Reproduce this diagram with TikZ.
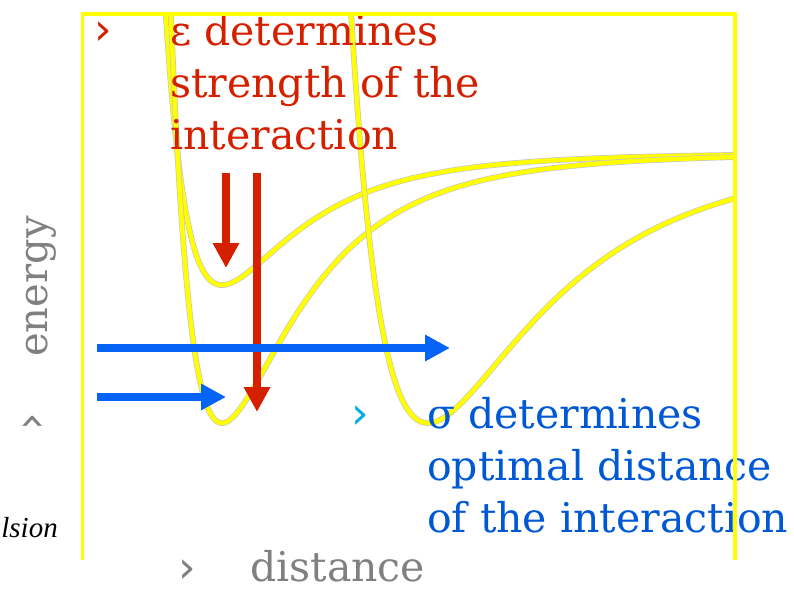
\documentclass[tikz,border=0pt]{standalone}
\usepackage{fontspec}
\setmainfont{DejaVu Serif}
\newfontfamily\symfont{DejaVu Sans}
\newfontfamily\itfont{Liberation Serif}
\usetikzlibrary{arrows.meta}
\definecolor{epsred}{RGB}{213,32,0}
\definecolor{arrblue}{RGB}{5,100,245}
\definecolor{txtblue}{RGB}{0,88,212}
\definecolor{lightblue}{RGB}{0,170,235}
\definecolor{labgray}{RGB}{128,128,128}
\definecolor{potyellow}{RGB}{255,255,0}
\begin{document}
\begin{tikzpicture}[x=1pt,y=-1pt,
  curve/.style={line width=4.4pt, draw=potyellow, preaction={draw=black!22, line width=5.8pt}},
  framel/.style={draw=potyellow, line width=3pt},
  redarrow/.style={draw=epsred, fill=epsred, line width=8pt, -{Triangle[length=25pt,width=25pt]}},
  bluearrow/.style={draw=arrblue, fill=arrblue, line width=8pt, -{Triangle[length=25pt,width=25pt]}},
  bigtext/.style={font=\fontsize{41}{52}\selectfont, inner sep=0pt, anchor=base west},
  bulletmark/.style={font=\symfont\fontsize{44}{50}\selectfont, inner sep=0pt, anchor=center},
]
\useasboundingbox (0,0) rectangle (794,589);
% potential curves
\begin{scope}
\clip (83,12) rectangle (735,560);
\draw[curve] plot[domain=0.855:2.3, samples=600, variable=\t] ({-186+408*\t},{153-132*(((1/\t)^6)^2-2*(1/\t)^6)});
\draw[curve] plot[domain=0.865:2.3, samples=600, variable=\t] ({-186+408*\t},{153-270*(((1/\t)^6)^2-2*(1/\t)^6)});
\draw[curve] plot[domain=0.865:1.55, samples=600, variable=\t] ({-186+614*\t},{153-270*(((1/\t)^6)^2-2*(1/\t)^6)});
\end{scope}
% arrows
\coordinate (r1s) at (226,173);
\coordinate (r1e) at (226,268);
\coordinate (r2s) at (257,173);
\coordinate (r2e) at (257,412);
\coordinate (b1s) at (97,348);
\coordinate (b1e) at (450,348);
\coordinate (b2s) at (97,397);
\coordinate (b2e) at (226,397);
\draw[redarrow] (r1s) -- (r1e);
\draw[redarrow] (r2s) -- (r2e);
\draw[bluearrow] (b1s) -- (b1e);
\draw[bluearrow] (b2s) -- (b2e);
% texts
\node[bulletmark, text=epsred] (epsbullet) at (103,33) {›};
\node[bigtext, text=epsred] (eps1) at (170,45) {ε determines};
\node[bigtext, text=epsred] (eps2) at (170,97) {strength of the};
\node[bigtext, text=epsred] (eps3) at (170,149) {interaction};
\node[bulletmark, text=lightblue] (sigbullet) at (360,417) {›};
\node[bigtext, text=txtblue] (sig1) at (427,428) {σ determines};
\node[bigtext, text=txtblue] (sig2) at (427,480) {optimal distance};
\node[bigtext, text=txtblue] (sig3) at (427,532) {of the interaction};
\node[bulletmark, text=labgray, rotate=90] (enbullet) at (34,422) {›};
\node[bigtext, text=labgray, rotate=90, font=\fontsize{40}{48}\selectfont] (energy) at (47,357) {energy};
\node[bulletmark, text=labgray] (distbullet) at (187,571) {›};
\node[bigtext, text=labgray] (distance) at (250,581) {distance};
\node[inner sep=0pt, anchor=base east, font=\itfont\itshape\fontsize{29}{34}\selectfont] (repulsion) at (58,537) {repulsion};
% frame
\draw[framel] (82.5,12) -- (82.5,560);
\draw[framel, line width=3.5pt] (80.8,14) -- (737,14);
\draw[framel, line width=3.5pt] (735,12) -- (735,560);
\end{tikzpicture}
\end{document}
